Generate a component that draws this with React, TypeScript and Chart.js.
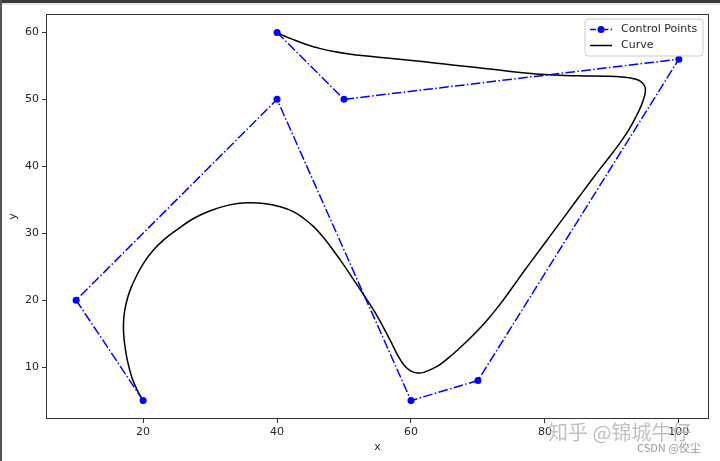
import React, { useEffect, useRef } from "react";
import { Chart, registerables } from "chart.js";

Chart.register(...registerables);

// Control polygon
const ctrlX = [20, 10, 40, 60, 70, 100, 50, 40];
const ctrlY = [5, 20, 50, 5, 8, 56, 50, 60];

// Curve samples
const curveX = [20, 19.15, 18.31, 17.65, 17.25, 17.07, 17.12, 17.46, 18.06, 18.95, 20.05, 21.54, 23.29, 25.28, 27.53, 30.02, 32.76, 35.5, 38.0, 40.5, 42.5, 44.0, 45.5, 47.0, 48.5, 50.0, 51.5, 53.0, 54.5, 55.8, 57.0, 58.0, 59.0, 60.0, 61.0, 62.0, 63.9, 65.5, 67.0, 69.0, 71.0, 73.0, 75.0, 77.0, 79.0, 81.0, 83.0, 85.0, 87.0, 89.0, 91.0, 92.5, 93.6, 94.4, 94.9, 95.0, 94.7, 94.0, 93.0, 91.5, 89.0, 86.0, 83.0, 80.0, 77.0, 74.0, 71.0, 68.0, 65.0, 62.0, 59.0, 56.0, 53.0, 50.5, 48.5, 46.5, 44.5, 42.5, 41.0, 40.0];
const curveY = [5, 6.5, 8.5, 11.0, 13.4, 15.4, 17.4, 19.5, 21.5, 23.5, 25.5, 27.5, 29.2, 30.7, 32.2, 33.35, 34.2, 34.55, 34.45, 33.95, 33.2, 32.2, 30.95, 29.3, 27.3, 25.2, 22.95, 20.7, 18.4, 16.1, 13.8, 11.8, 10.25, 9.4, 9.12, 9.25, 10.1, 11.3, 12.6, 14.5, 16.6, 19.0, 21.7, 24.5, 27.2, 29.9, 32.6, 35.3, 38.0, 40.6, 43.2, 45.4, 47.4, 49.1, 50.6, 51.6, 52.3, 52.85, 53.15, 53.35, 53.45, 53.5, 53.56, 53.7, 53.95, 54.27, 54.62, 54.95, 55.27, 55.6, 55.93, 56.22, 56.5, 56.82, 57.15, 57.58, 58.15, 58.9, 59.5, 60.0];

const xTicks = [20, 40, 60, 80, 100];
const yTicks = [10, 20, 30, 40, 50, 60];
const xRange = [5.5, 104.5];
const yRange = [2.25, 62.75];
const legendLabels = ["Control Points", "Curve"];
const xTitle = "x";
const yTitle = "y";

const FONT = "'DejaVu Sans', sans-serif";
const TEXT = "#262626";
const BLUE = "#0000ff";
const DASH = [9.6, 2.4, 1.5, 2.4];

const framePlugin = {
  id: "frameLegend",
  afterDatasetsDraw(chart: any) {
    const { ctx, chartArea } = chart;
    const { left, top, right, bottom } = chartArea;
    ctx.save();
    ctx.strokeStyle = "#333333";
    ctx.lineWidth = 1;
    ctx.strokeRect(Math.round(left) + 0.5, Math.round(top) + 0.5, Math.round(right - left) - 1, Math.round(bottom - top) - 1);

    // legend
    const bx = right - 124, by = top + 5, bw = 118, bh = 37;
    ctx.beginPath();
    const r = 3;
    ctx.moveTo(bx + r, by);
    ctx.arcTo(bx + bw, by, bx + bw, by + bh, r);
    ctx.arcTo(bx + bw, by + bh, bx, by + bh, r);
    ctx.arcTo(bx, by + bh, bx, by, r);
    ctx.arcTo(bx, by, bx + bw, by, r);
    ctx.closePath();
    ctx.fillStyle = "rgba(255,255,255,0.8)";
    ctx.fill();
    ctx.strokeStyle = "#cccccc";
    ctx.stroke();

    const lx0 = bx + 5, lx1 = bx + 27, tx = bx + 36;
    const y1 = by + 10.5, y2 = by + 26.5;
    ctx.lineWidth = 1.5;
    ctx.strokeStyle = BLUE;
    ctx.setLineDash([6, 2.4, 1.5, 2.4]);
    ctx.beginPath();
    ctx.moveTo(lx0, y1);
    ctx.lineTo(lx1, y1);
    ctx.stroke();
    ctx.setLineDash([]);
    ctx.fillStyle = BLUE;
    ctx.beginPath();
    ctx.arc((lx0 + lx1) / 2, y1, 3.5, 0, Math.PI * 2);
    ctx.fill();
    ctx.strokeStyle = "#000000";
    ctx.beginPath();
    ctx.moveTo(lx0, y2);
    ctx.lineTo(lx1, y2);
    ctx.stroke();

    ctx.fillStyle = TEXT;
    ctx.font = `11px ${FONT}`;
    ctx.textBaseline = "middle";
    ctx.textAlign = "left";
    ctx.fillText(legendLabels[0], tx, y1);
    ctx.fillText(legendLabels[1], tx, y2);
    ctx.restore();
  },
};

export default function App() {
  const ref = useRef<HTMLCanvasElement | null>(null);
  useEffect(() => {
    if (!ref.current) return;
    const chart = new Chart(ref.current, {
      type: "scatter",
      data: {
        datasets: [
          {
            label: legendLabels[0],
            data: ctrlX.map((x, i) => ({ x, y: ctrlY[i] })),
            showLine: true,
            borderColor: BLUE,
            backgroundColor: BLUE,
            borderWidth: 1.5,
            borderDash: DASH,
            pointRadius: 3.5,
            pointBorderWidth: 0,
            pointBackgroundColor: BLUE,
            tension: 0,
            order: 0,
          },
          {
            label: legendLabels[1],
            data: curveX.map((x, i) => ({ x, y: curveY[i] })),
            showLine: true,
            borderColor: "#000000",
            borderWidth: 1.5,
            pointRadius: 0,
            tension: 0.4,
            order: 1,
          },
        ],
      },
      options: {
        animation: false,
        responsive: false,
        devicePixelRatio: 1,
        layout: { padding: { top: 14, right: 11, left: 0, bottom: 0 } },
        plugins: { legend: { display: false }, tooltip: { enabled: false } },
        scales: {
          x: {
            type: "linear",
            min: xRange[0],
            max: xRange[1],
            afterBuildTicks: (s: any) => { s.ticks = xTicks.map((v) => ({ value: v })); },
            afterFit: (s: any) => { s.height = 42; },
            grid: { drawOnChartArea: false, drawTicks: true, tickLength: 4, tickColor: "#333333", tickWidth: 1 },
            border: { display: false },
            ticks: { color: TEXT, font: { family: FONT, size: 11 }, padding: 3, maxRotation: 0, autoSkip: false },
            title: { display: true, text: xTitle, color: TEXT, font: { family: FONT, size: 11 }, padding: { top: 0, bottom: 7.4 } },
          },
          y: {
            type: "linear",
            min: yRange[0],
            max: yRange[1],
            afterBuildTicks: (s: any) => { s.ticks = yTicks.map((v) => ({ value: v })); },
            afterFit: (s: any) => { s.width = 46; },
            grid: { drawOnChartArea: false, drawTicks: true, tickLength: 4, tickColor: "#333333", tickWidth: 1 },
            border: { display: false },
            ticks: { color: TEXT, font: { family: FONT, size: 11 }, padding: 3, autoSkip: false },
            title: { display: true, text: yTitle, color: TEXT, font: { family: FONT, size: 11 }, padding: { top: 6.4, bottom: 0 } },
          },
        },
      },
      plugins: [framePlugin],
    } as any);
    return () => chart.destroy();
  }, []);

  return (
    <div style={{ position: "fixed", left: 0, top: 0, width: 720, height: 461, background: "#ffffff", overflow: "hidden" }}>
      <canvas ref={ref} width={720} height={461} style={{ position: "absolute", left: 0, top: 0, width: 720, height: 461 }} />
      <div style={{ position: "absolute", left: 0, top: 0, width: 720, height: 3, background: "#3a3a3a" }} />
      <div style={{ position: "absolute", left: 0, top: 3, width: 720, height: 2, background: "#e6e6e6" }} />
      <div style={{ position: "absolute", left: 0, top: 0, width: 1.5, height: 461, background: "#555555" }} />
      <div style={{ position: "absolute", left: 548, top: 419, fontFamily: "'Noto Sans CJK SC', sans-serif", fontSize: 20, lineHeight: "26px", color: "rgba(140,140,140,0.55)", textShadow: "0 0 1px #ffffff", whiteSpace: "nowrap" }}>知乎 @锦城牛仔</div>
      <div style={{ position: "absolute", left: 637, top: 439, fontFamily: "'Noto Sans CJK SC', sans-serif", fontSize: 11, lineHeight: "16px", color: "#999999", whiteSpace: "nowrap" }}>CSDN @佼尘</div>
    </div>
  );
}
